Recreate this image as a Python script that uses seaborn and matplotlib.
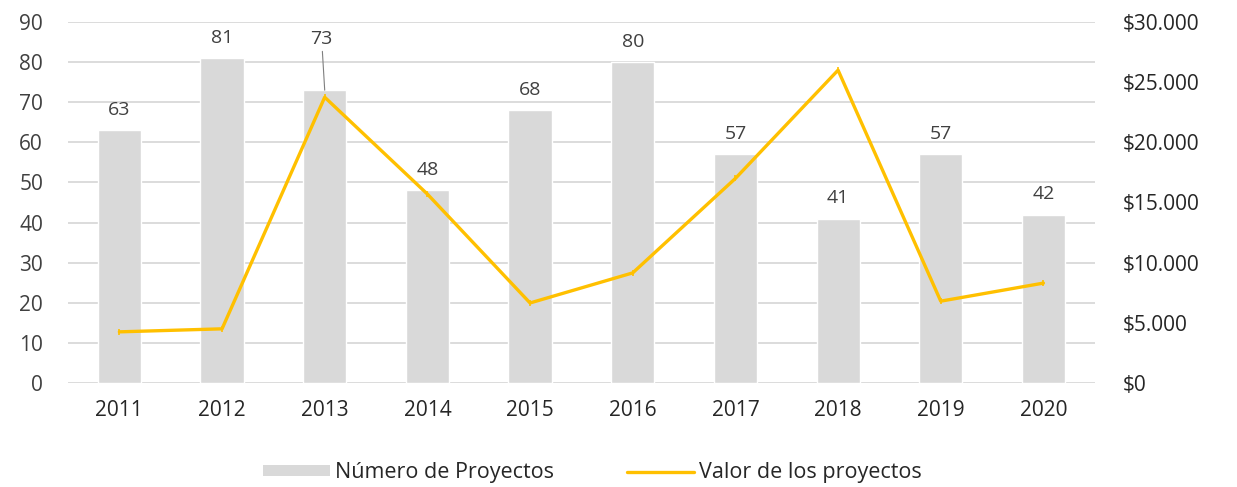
import matplotlib
matplotlib.use("Agg")
import matplotlib.pyplot as plt
import seaborn as sns
import numpy as np
import pandas as pd
from matplotlib.patches import Patch
from matplotlib.lines import Line2D
from matplotlib.ticker import FuncFormatter

# datos
years = ["2011", "2012", "2013", "2014", "2015", "2016", "2017", "2018", "2019", "2020"]
num_proyectos = [63, 81, 73, 48, 68, 80, 57, 41, 57, 42]
valor_proyectos = [4250, 4500, 23750, 15700, 6650, 9150, 17000, 26000, 6800, 8300]

bar_label = "Número de Proyectos"
line_label = "Valor de los proyectos"

sns.set_style("white")
plt.rcParams["font.family"] = ["Open Sans", "DejaVu Sans"]

GRAY = "#D9D9D9"
GOLD = "#FFC000"
TXT = "#404040"

fig = plt.figure(figsize=(12.37, 4.87), dpi=100)
ax = fig.add_axes([0.055, 0.2136, 0.83, 0.7412])

df = pd.DataFrame({"year": years, "n": num_proyectos, "valor": valor_proyectos})

sns.barplot(data=df, x="year", y="n", color=GRAY, width=0.42, saturation=1, ax=ax, zorder=2)
ax.set_ylim(0, 90)
ax.set_yticks(range(0, 91, 10))
ax.set_xlim(-0.5, len(years) - 0.5)
ax.yaxis.grid(True, color=GRAY, lw=1.3, zorder=0)
ax.set_axisbelow(True)
ax.set_xlabel("")
ax.set_ylabel("")
for s in ax.spines.values():
    s.set_visible(False)
ax.tick_params(axis="y", length=0, pad=18, labelsize=15, labelcolor=TXT)
ax.tick_params(axis="x", length=0, pad=12, labelsize=15, labelcolor="#262626")

# etiquetas de datos
for i, v in enumerate(num_proyectos):
    if years[i] == "2013":
        ax.annotate(str(v), xy=(i, v), xytext=(i - 0.03, 83.5), ha="center", va="bottom",
                    fontsize=14, color=TXT,
                    arrowprops=dict(arrowstyle="-", color="#7F7F7F", lw=0.8, shrinkA=0, shrinkB=0))
    else:
        ax.annotate(str(v), xy=(i, v), xytext=(0, 8), textcoords="offset points",
                    ha="center", va="bottom", fontsize=14, color=TXT)

ax2 = ax.twinx()
sns.lineplot(x=np.arange(len(years)), y=valor_proyectos, color=GOLD, lw=2.4, ax=ax2,
             marker="|", markersize=4, markeredgewidth=1.2, markeredgecolor=GOLD, zorder=3)
ax2.set_ylim(0, 30000)
ax2.set_yticks(range(0, 30001, 5000))
ax2.yaxis.set_major_formatter(FuncFormatter(lambda v, p: "$" + f"{int(v):,}".replace(",", ".")))
ax2.tick_params(axis="y", length=0, pad=20, labelsize=15, labelcolor="#262626")
for s in ax2.spines.values():
    s.set_visible(False)
ax2.set_ylabel("")

handles = [Patch(facecolor=GRAY, edgecolor="none"),
           Line2D([0], [0], color=GOLD, lw=2.4)]
fig.legend(handles, [bar_label, line_label], loc="center", ncol=2,
           bbox_to_anchor=(0.479, 0.029), frameon=False,
           prop={"size": 15.5},
           handlelength=3.1, handleheight=0.45, columnspacing=3.4, handletextpad=0.25,
           labelcolor="#262626")

fig.savefig("out.png", dpi=100)
